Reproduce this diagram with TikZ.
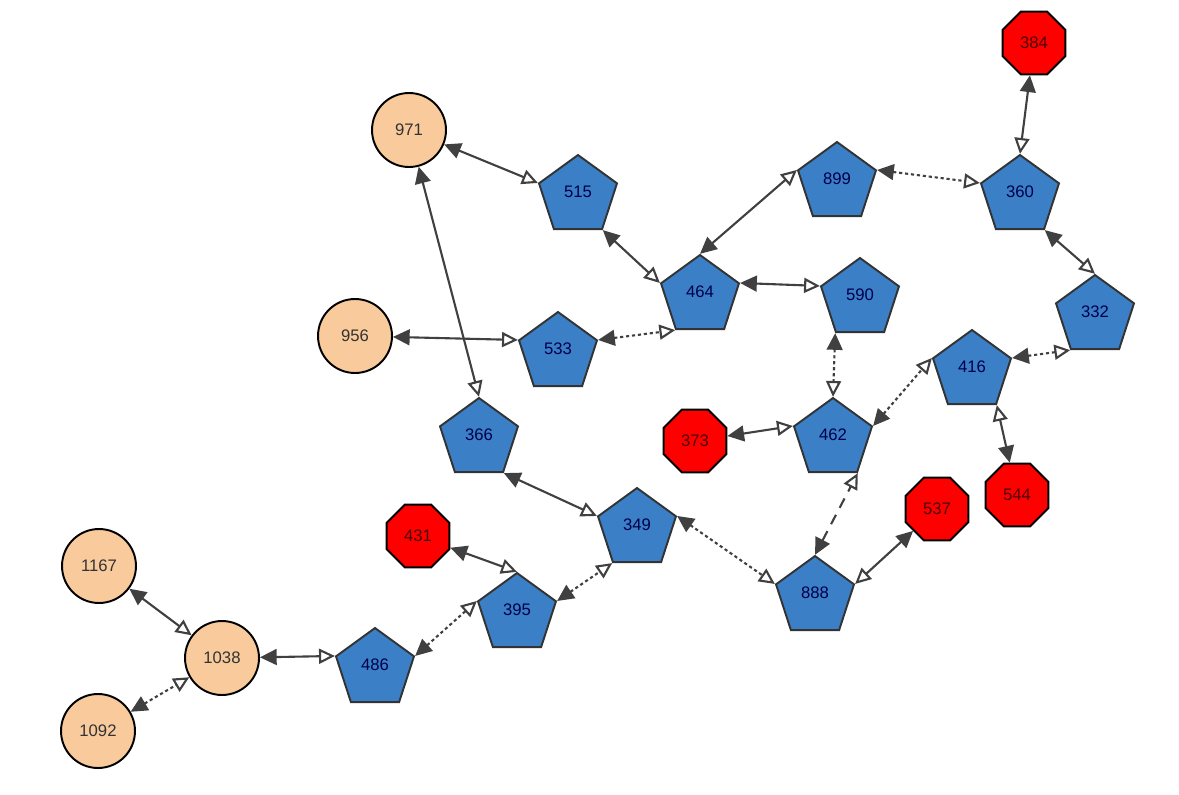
\documentclass[tikz,border=0pt]{standalone}
\usepackage{fontspec}
\setmainfont{Liberation Sans}
\usepackage{tikz}
\usetikzlibrary{shapes.geometric,arrows.meta}
\definecolor{penta}{RGB}{59,127,198}
\definecolor{peach}{RGB}{248,202,156}
\definecolor{edgegray}{RGB}{64,64,64}
\tikzstyle{pentanode}=[
        regular polygon,
        regular polygon sides=5,
        minimum size=1.64cm,
        inner sep=0pt,
        text depth=4.5pt,
        fill=penta,
        draw=black!80,
        line width=1.1pt,
        text=blue!30!black
]
\tikzstyle{octanode}=[
        regular polygon,
        regular polygon sides=8,
        minimum size=1.36cm,
        inner sep=0pt,
        fill=red,
        draw=black,
        line width=1.1pt,
        text=red!30!black
]
\tikzstyle{circnode}=[
        circle,
        minimum size=1.48cm,
        inner sep=0pt,
        fill=peach,
        draw=black,
        line width=1.1pt,
        text=black!80
]
\tikzstyle{link}=[
        draw=edgegray,
        line width=1.2pt,
        {Triangle[length=9.5pt,width=9pt]}-{Triangle[open,length=9pt,width=8.5pt]}
]
\tikzstyle{dottedlink}=[
        link,
        dash pattern=on 1.8pt off 1.6pt
]
\tikzstyle{dashedlink}=[
        link,
        dash pattern=on 6pt off 4.5pt
]

\begin{document}
\begin{tikzpicture}[x=0.02cm,y=-0.02cm,font=\fontsize{9.5}{11}\selectfont]
                        \useasboundingbox (0,0) rectangle (1179,794);

                        % circles
                        \node[circnode] (n971) at (409,130) {971};
                        \node[circnode] (n956) at (355,336) {956};
                        \node[circnode] (n1167) at (99,566) {1167};
                        \node[circnode] (n1038) at (222,658) {1038};
                        \node[circnode] (n1092) at (98,731) {1092};

                        % pentagons
                        \node[pentanode] (n515) at (578,196) {515};
                        \node[pentanode] (n464) at (700,296) {464};
                        \node[pentanode] (n899) at (837,183) {899};
                        \node[pentanode] (n590) at (860,299) {590};
                        \node[pentanode] (n533) at (558,353) {533};
                        \node[pentanode] (n360) at (1020,196) {360};
                        \node[pentanode] (n332) at (1095,316) {332};
                        \node[pentanode] (n416) at (972,371) {416};
                        \node[pentanode] (n366) at (479,439) {366};
                        \node[pentanode] (n462) at (833,439) {462};
                        \node[pentanode] (n349) at (637,529) {349};
                        \node[pentanode] (n395) at (517,614) {395};
                        \node[pentanode] (n486) at (375,669) {486};
                        \node[pentanode] (n888) at (815,597) {888};

                        % octagons
                        \node[octanode] (n384) at (1034,43) {384};
                        \node[octanode] (n373) at (695,441) {373};
                        \node[octanode] (n431) at (418,536) {431};
                        \node[octanode] (n537) at (937,509) {537};
                        \node[octanode] (n544) at (1017,495) {544};

                        % filled end first, open end second
                        \foreach \a/\b in {n971/n515.corner 2, n971/n366.corner 1,
                                n515.corner 4/n464.corner 2, n464.corner 1/n899.corner 2,
                                n464.corner 5/n590.corner 2, n956/n533.corner 2,
                                n384/n360.corner 1, n360.corner 4/n332.corner 1,
                                n544/n416.corner 4, n373/n462.corner 2, n537/n888.corner 5,
                                n366.corner 4/n349.corner 2, n431/n395.corner 1,
                                n1038/n486.corner 2, n1167/n1038} {
                            \draw[link] (\a) -- (\b);
                        }

                        \foreach \a/\b in {n533.corner 5/n464.corner 3,
                                n899.corner 5/n360.corner 2, n416.corner 5/n332.corner 3,
                                n462.corner 5/n416.corner 2, n590.corner 3/n462.corner 1,
                                n349.corner 5/n888.corner 2, n395.corner 5/n349.corner 3,
                                n486.corner 5/n395.corner 2, n1092/n1038} {
                            \draw[dottedlink] (\a) -- (\b);
                        }

                        \draw[dashedlink] (n888.corner 1) -- (n462.corner 4);

                    \end{tikzpicture}
\end{document}
